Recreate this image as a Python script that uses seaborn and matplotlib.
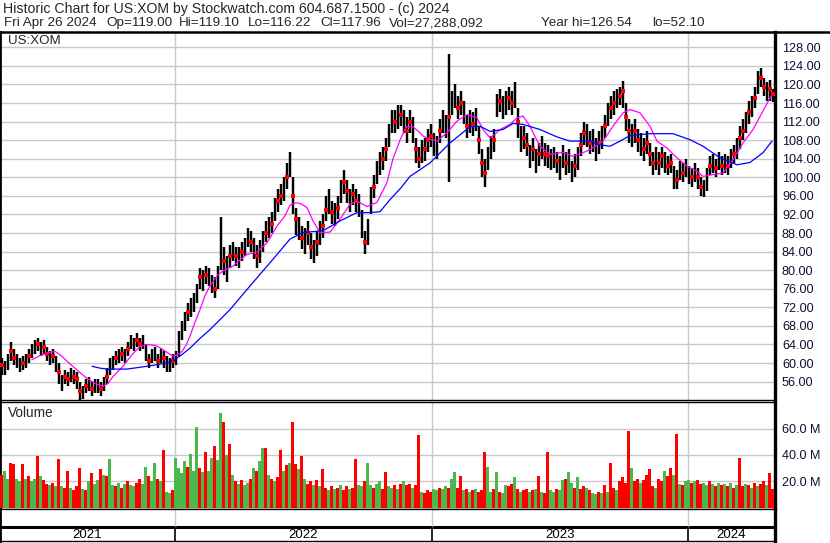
import numpy as np
import pandas as pd
import matplotlib
matplotlib.use("Agg")
import matplotlib.pyplot as plt
import seaborn as sns
from matplotlib.lines import Line2D

# one bar = 3 trading days (~3 px in the original chart)
step = 3

close = [59.5, 59, 60, 62.5, 61, 60.5, 59.5, 60, 60.5, 61.5, 62.5, 63.5, 64, 63, 63.5, 62, 61, 61.5, 60, 58,
         56, 57, 56.5, 57.5, 57, 56.5, 54, 53.5, 55, 55.5, 54.5, 55, 55, 54.5, 55.5, 57, 59, 60, 61, 61.5,
         62, 61.5, 63, 64.5, 64, 65, 64, 64.5, 62, 60.5, 61.5, 62, 60.5, 61.5, 61, 60, 59.5, 60.5, 61, 64,
         67, 69, 71, 72, 73, 75, 78.5, 78, 79, 78.5, 77, 76, 78, 83, 82, 80, 83, 84, 83, 82.5,
         84, 85, 87, 86, 85, 83, 84, 86, 88, 89, 90, 93, 95, 96, 97.5, 100, 103, 96, 91, 89,
         87, 86.5, 88, 85, 84, 86, 88, 89.5, 93, 94.5, 92.5, 92, 93.5, 97, 99, 97, 95, 96.5, 95, 94,
         90, 86, 88, 95, 98, 101, 103, 104, 106, 109, 112, 112, 113, 113.5, 112, 110, 112, 110, 106, 104,
         105.5, 106, 108, 109, 107, 106.5, 110, 112, 111, 113, 116, 117.5, 115, 116, 114, 111, 112, 111.5, 112.5, 108,
         103, 101, 104, 106.5, 108, 115.5, 116.5, 115, 116, 117, 116, 118, 112, 108, 108.5, 107, 104.5, 106, 103.5, 105,
         106.5, 105, 104.5, 104, 104.5, 103.5, 102, 104.5, 103, 103.5, 101, 102.5, 104, 107, 109.5, 109, 107.5, 108, 106, 107.5,
         108.5, 111, 113.5, 115, 116, 117, 117.5, 118.5, 113, 110, 109, 110, 108, 107, 106, 107.5, 105, 103, 104, 103,
         104.5, 103.5, 102.5, 103, 100, 99.5, 101.5, 101, 102, 100.5, 100, 101, 100, 98, 97, 99.5, 102.5, 103, 102, 103.5,
         102.5, 103, 102.5, 104, 105, 106, 108.5, 110, 111.5, 114, 115, 117, 120.5, 121.5, 119.5, 118.5, 119, 117.96]

high = [61, 60.5, 62, 64.5, 63, 62, 61, 61.5, 62, 63, 64, 65, 65.5, 64.5, 65, 63.5, 62.5, 63, 61.5, 60,
        57.5, 58.5, 58, 59, 58.5, 58, 56, 55, 56.5, 57, 56, 56.5, 56.5, 56, 57, 59, 61, 61.5, 62.5, 63,
        63.5, 63, 64.5, 66, 65.5, 66.5, 65.5, 66, 64, 62, 63, 63.5, 62, 63, 62.5, 61.5, 61, 62, 62.5, 67,
        69, 71, 73, 74, 75, 77, 80.5, 80, 81, 80.5, 79, 78.5, 81, 91.5, 85, 83, 85.5, 86, 85, 85,
        86, 87, 89, 88.5, 87, 85.5, 86.5, 88.5, 90.5, 91.5, 92.5, 95.5, 97.5, 98.5, 100, 103, 105.5, 100, 93.5, 91.5,
        89.5, 89, 90.5, 88, 86.5, 88.5, 90.5, 92, 96, 97.5, 95, 94.5, 96, 99.5, 101.5, 99.5, 97.5, 98.5, 97.5, 96.5,
        93, 88.5, 91, 98, 100.5, 103.5, 105.5, 106.5, 108.5, 111.5, 114.5, 114.5, 115.5, 115.5, 114.5, 113, 114.5, 113, 108.5, 106.5,
        108, 108.5, 110.5, 111.5, 109.5, 109, 112.5, 114.5, 113.5, 126.54, 118.5, 120, 117.5, 118.5, 116.5, 113.5, 114.5, 114, 115, 111,
        106, 104, 106.5, 109, 110.5, 118, 119, 117.5, 118.5, 119.5, 118.5, 120.5, 115, 111, 111, 109.5, 107, 108.5, 106, 107.5,
        109, 107.5, 107, 106, 106.5, 105.5, 104.5, 107, 105.5, 106, 103.5, 105, 106.5, 109.5, 112, 111.5, 110, 110.5, 108.5, 110,
        111, 113.5, 116, 117.5, 118.5, 119, 119.5, 120.8, 116, 112.5, 111.5, 112.5, 110.5, 109.5, 108.5, 110, 107.5, 105.5, 106.5, 105.5,
        106.5, 105.5, 104.5, 105, 102.5, 101.5, 103.5, 103, 104, 102.5, 102, 103, 102, 100, 99.5, 102, 104.5, 105, 104, 105.5,
        104.5, 105, 104.5, 106, 107, 108.5, 111, 112.5, 114, 116.5, 117.5, 119.5, 123, 123.5, 121.5, 120.5, 121, 119.1]

low = [57.5, 57.5, 58.5, 60.5, 59.5, 59, 58, 58.5, 59, 60, 61, 62, 62.5, 61.5, 62, 60.5, 59.5, 60, 58, 55.5,
       54, 55.5, 55, 56, 55.5, 54.5, 52.1, 52.3, 53.5, 54, 53, 53.5, 53.5, 53, 54, 55.5, 57.5, 58.5, 59.5, 60,
       60.5, 60, 61.5, 63, 62.5, 63.5, 62.5, 63, 60.5, 59, 60, 60.5, 59, 60, 59, 58, 58, 59, 59.5, 61.5,
       65, 67, 69, 70, 71, 73, 76, 75.5, 77, 76.5, 75, 74, 76, 80, 79, 77.5, 80.5, 82, 81, 80.5,
       82, 83, 85, 84, 82.5, 80.5, 81.5, 84, 86, 87, 88, 90.5, 92.5, 94, 95, 97.5, 100, 92, 87.5, 86.5,
       84.5, 83.5, 85.5, 82.5, 81.5, 83, 85.5, 87, 90.5, 92, 90, 89.5, 91, 94.5, 96.5, 94.5, 92.5, 94, 92.5, 91.5,
       87, 83.5, 85.5, 92, 95.5, 98.5, 100.5, 101.5, 103.5, 106.5, 109.5, 109.5, 110.5, 111, 109.5, 107.5, 109.5, 107.5, 103, 102,
       103, 103.5, 105.5, 106.5, 104.5, 104, 107.5, 109.5, 108.5, 99, 113.5, 115, 112.5, 113.5, 111.5, 108.5, 109.5, 109, 110, 105,
       100, 98, 101.5, 104, 105.5, 113, 114, 112.5, 113.5, 114.5, 113.5, 115, 108.5, 105.5, 106, 104.5, 102, 103.5, 101, 102.5,
       104, 102.5, 102, 101.5, 102, 101, 99.5, 102, 100.5, 101, 99, 100, 101.5, 104.5, 107, 106.5, 105, 105.5, 103.5, 105,
       106, 108.5, 111, 112.5, 113.5, 115, 115.5, 115, 110, 107.5, 106.5, 107.5, 105.5, 104.5, 103.5, 105, 102.5, 100.5, 101.5, 100.5,
       102, 101, 100.5, 101, 97.5, 97.5, 99.5, 99, 100, 98.5, 98, 99, 97.5, 96, 95.8, 97, 100.5, 101, 100, 101.5,
       100.5, 101, 100.5, 102, 103, 104, 106, 108, 109.5, 111.5, 113, 115, 118, 119.5, 117.5, 116.5, 116.5, 116.22]

# volume in millions of shares
vol = [25, 28, 22, 34, 33, 22, 20, 33, 22, 24, 20, 22, 39, 24, 21, 18, 17, 19, 16, 37,
       16, 15, 28, 15, 13, 16, 30, 14, 13, 20, 26, 18, 21, 29, 25, 24, 37, 17, 16, 19,
       15, 18, 20, 17, 16, 19, 22, 18, 31, 24, 20, 34, 22, 20, 44, 12, 11, 13, 38, 30,
       26, 35, 31, 41, 28, 61, 30, 27, 42, 28, 38, 47, 36, 72, 65, 40, 48, 25, 20, 18,
       21, 17, 19, 22, 30, 28, 35, 45, 45, 25, 22, 20, 23, 44, 28, 32, 34, 65, 33, 29,
       39, 22, 18, 20, 17, 21, 16, 29, 15, 13, 16, 14, 15, 17, 13, 16, 14, 15, 37, 17,
       16, 20, 34, 17, 15, 18, 20, 14, 27, 16, 15, 17, 14, 18, 20, 17, 18, 15, 17, 55,
       12, 11, 13, 12, 14, 13, 15, 14, 16, 15, 22, 27, 15, 24, 13, 14, 12, 13, 14, 12,
       13, 42, 31, 12, 14, 27, 12, 11, 17, 16, 18, 23, 14, 12, 13, 14, 12, 13, 14, 24,
       12, 11, 42, 13, 12, 14, 13, 21, 22, 27, 19, 15, 23, 14, 16, 15, 13, 11, 10, 12,
       11, 17, 12, 34, 15, 13, 20, 23, 19, 58, 30, 20, 22, 19, 21, 25, 29, 16, 15, 22,
       20, 28, 24, 30, 25, 56, 18, 17, 20, 21, 19, 20, 21, 18, 19, 17, 20, 18, 16, 19,
       17, 18, 16, 19, 15, 17, 38, 16, 18, 17, 15, 19, 16, 18, 20, 17, 26, 14]

# G = up, R = down
vol_col = ("RGGRRGGRGRGGRGRRGRGR"
           "GRRGRRRGRGRGGRGRGGRG"
           "RGRGGRRGGRGGRGRGGRGG"
           "GGRGGGRGRGGRGGRGRGRG"
           "RGGRGRGGRGRGRRGRGRRG"
           "RGRRGRGRRGRGRGRRGRRG"
           "GRGGRGGRRGGRGRGRRGRR"
           "GRRRGGRGGRGGRRGRGRGR"
           "RRGGRGRGGRRGRGRRGRGR"
           "GRRGGRGGRGGRGRRGRGGR"
           "GRGRRGRRRRGRRGRRRRGR"
           "RGRRGRGRGGRGRRGGRGRG"
           "RGRGRGRRGRGRGRRGRR")

ma50_x = [32, 40, 50, 55, 60, 67, 77, 87, 95, 103, 108, 113, 123, 132, 140, 147, 155, 160, 167, 173,
          178, 182, 186, 190, 195, 200, 205, 210, 217, 223, 233, 240, 247, 257, 267, 277, 285, 290, 295, 300,
          307, 313, 320, 330, 340, 350, 357, 367, 377, 387, 393, 400, 406, 412, 418, 423, 430, 437, 447, 457,
          467, 477, 483, 490, 495, 500, 510, 517, 523, 530, 535, 540, 550, 563, 573, 583, 590, 597, 603, 613,
          623, 630, 640, 650, 657, 667, 677, 687, 697, 703, 713, 723, 733, 743, 753, 763, 771]
ma50_y = [60.7, 61.6, 62.3, 62.5, 61.8, 60.4, 58.5, 56.7, 55.6, 55.0, 55.6, 57.1, 59.3, 61.8, 63.6, 64.0, 63.8, 63.3, 62.3, 61.5,
          61.8, 62.5, 63.8, 65.8, 68.8, 71.5, 74.5, 76.6, 78.8, 79.8, 80.9, 82.2, 83.4, 83.9, 85.9, 89.5, 91.7, 94.0, 94.5, 94.4,
          93.5, 90.6, 88.1, 88.2, 91.0, 94.2, 94.9, 93.7, 94.6, 98.9, 104.0, 108.0, 110.8, 111.0, 110.0, 108.9, 108.2, 107.8, 109.6, 112.1,
          113.5, 112.8, 110.3, 108.5, 109.3, 110.3, 111.4, 112.8, 113.2, 111.0, 108.8, 106.7, 104.9, 105.4, 104.5, 105.3, 106.0, 106.9, 107.8, 111.0,
          113.9, 114.6, 113.9, 111.0, 107.8, 106.3, 104.2, 102.4, 101.3, 100.2, 100.6, 100.9, 103.8, 107.4, 110.3, 114.3, 117.5]

ma200_x = [92, 100, 107, 127, 147, 167, 175, 180, 190, 200, 210, 230, 250, 270, 290, 303, 323, 340, 357, 370,
           380, 390, 400, 410, 430, 450, 470, 480, 490, 503, 513, 523, 540, 557, 570, 590, 600, 610, 620, 630,
           650, 673, 690, 703, 720, 737, 750, 763, 772]
ma200_y = [59.3, 58.9, 58.7, 58.7, 59.3, 60.0, 60.8, 61.5, 63.2, 65.3, 67.2, 71.5, 76.6, 81.6, 86.7, 88.1, 88.5, 90.6, 92.4, 92.4,
           92.6, 95.2, 97.5, 100.2, 103.1, 107.4, 110.9, 111.0, 109.9, 110.3, 111.6, 111.4, 110.3, 108.7, 107.8, 107.8, 107.0, 106.7, 107.8, 109.0,
           109.4, 109.4, 108.1, 106.7, 104.2, 102.7, 103.2, 105.3, 107.8]

year_labels = ["2021", "2022", "2023", "2024"]
year_edges = [0, 175, 432, 688, 775]

title1 = "Historic Chart for US:XOM by Stockwatch.com 604.687.1500 - (c) 2024"
info_fields = ["Fri Apr 26 2024", "Op=119.00", "Hi=119.10", "Lo=116.22", "Cl=117.96",
               "Vol=27,288,092", "Year hi=126.54", "lo=52.10"]
info_x = [4, 106, 179, 248, 320, 389, 541, 652]

df = pd.DataFrame({"close": close, "high": high, "low": low, "vol": vol,
                   "col": list(vol_col)})
df["x"] = np.arange(len(df)) * step + 1.5

sns.set_style("white")
plt.rcParams["font.family"] = ["Liberation Sans", "DejaVu Sans"]

W, H = 830, 543
fig = plt.figure(figsize=(W / 100, H / 100), dpi=100)


def fx(px):
    return px / W


def fy(py):
    return 1 - py / H


grid_c = "#c8c8c8"
lab_c = "#101030"

ax = fig.add_axes([0, fy(400), fx(775), (400 - 32) / H])
axv = fig.add_axes([0, fy(509), fx(775), (509 - 402) / H])
axs = fig.add_axes([0, fy(541), fx(775), (541 - 509) / H])

# price panel
ax.vlines(df.x, df.low, df.high, color="black", lw=1.75, zorder=3)
down = df[df.col == "R"]
sns.scatterplot(x=down.x, y=down.close, ax=ax, color="red", marker="s", s=6,
                linewidth=0, zorder=4, legend=False)
sns.lineplot(x=ma50_x, y=ma50_y, ax=ax, color="#ff00ff", lw=0.9, sort=False, zorder=5)
sns.lineplot(x=ma200_x, y=ma200_y, ax=ax, color="#0000ff", lw=0.9, sort=False, zorder=5)

yt = np.arange(56, 129, 4)
ax.set_xlim(0, 775)
ax.set_ylim(52.04, 131.3)
ax.set_yticks(yt)
ax.set_yticklabels([f"{v:.2f}" for v in yt])
ax.set_xticks([])
ax.yaxis.tick_right()
ax.tick_params(axis="y", length=0, pad=5, labelsize=9.1, labelcolor=lab_c)
ax.yaxis.grid(True, color=grid_c, lw=1, zorder=0)
for e in year_edges[1:-1]:
    ax.axvline(e, color=grid_c, lw=1, zorder=0)
ax.set_xlabel("")
ax.set_ylabel("")

# volume panel
axv.bar(df.x, df.vol, width=2.7, color=df.col.map({"G": "#4cb84c", "R": "#ff0000"}),
        linewidth=0, zorder=3)
axv.set_xlim(0, 775)
axv.set_ylim(-1.1, 80.2)
axv.set_yticks([20, 40, 60])
axv.set_yticklabels(["20.0 M", "40.0 M", "60.0 M"])
axv.set_xticks([])
axv.yaxis.tick_right()
axv.tick_params(axis="y", length=0, pad=5, labelsize=9.1, labelcolor=lab_c)
axv.yaxis.grid(True, color=grid_c, lw=1, zorder=0)
for e in year_edges[1:-1]:
    axv.axvline(e, color=grid_c, lw=1, zorder=0)

# year strip
axs.set_xlim(0, 775)
axs.set_ylim(32, 0)
axs.set_xticks([])
axs.set_yticks([])
axs.axhline(18, color="black", lw=2.2)
for e in year_edges[1:-1]:
    axs.plot([e, e], [0, 18], color=grid_c, lw=1)
    axs.plot([e, e], [18, 32], color="black", lw=1.2)
for i, lab in enumerate(year_labels):
    axs.text((year_edges[i] + year_edges[i + 1]) / 2, 26, lab, ha="center", va="center",
             fontsize=9.5, color="black")

for a in (ax, axv, axs):
    for s in a.spines.values():
        s.set_color("black")
        s.set_linewidth(1)
    a.spines["left"].set_linewidth(2)
    a.spines["right"].set_linewidth(2.4)
ax.spines["top"].set_visible(False)

fig.add_artist(Line2D([0, 1], [fy(31.5), fy(31.5)], color="black", lw=1.8))
fig.text(fx(3), fy(9), title1, fontsize=10.2, va="center", ha="left")
for t, px in zip(info_fields, info_x):
    fig.text(fx(px), fy(23), t, fontsize=9.7, va="center", ha="left")
fig.text(fx(8), fy(41), "US:XOM", fontsize=9.6, va="center", ha="left")
fig.text(fx(8), fy(413), "Volume", fontsize=9.8, va="center", ha="left")

fig.savefig("out.png", dpi=100)
